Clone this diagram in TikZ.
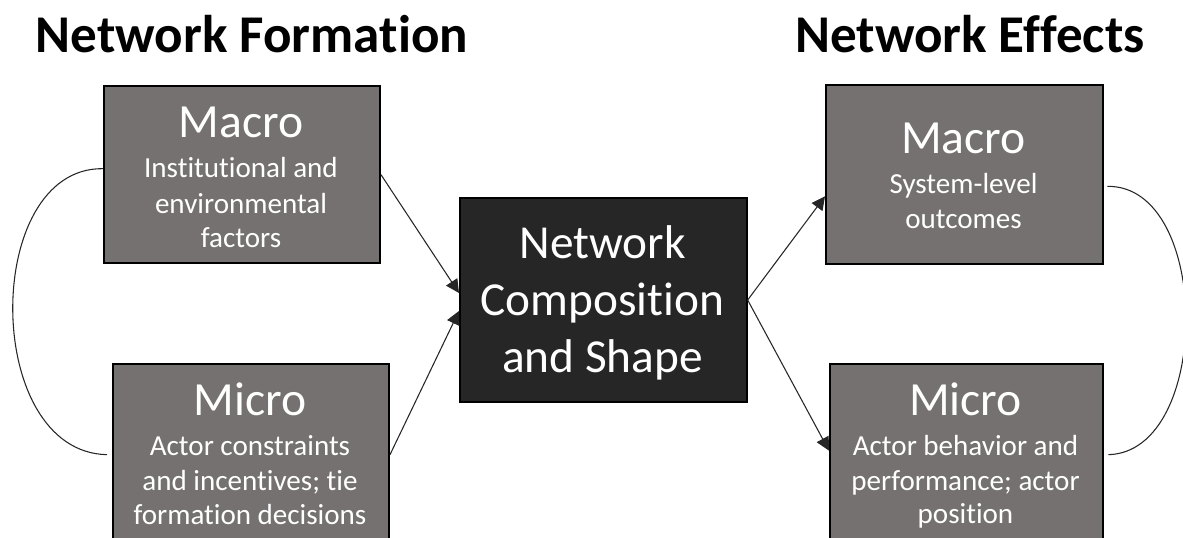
\documentclass[tikz,border=0pt]{standalone}
\usepackage{fontspec}
\setmainfont[Ligatures={NoCommon}]{Carlito}
\usetikzlibrary{arrows.meta,calc}
\definecolor{boxgray}{HTML}{767171}
\definecolor{boxdark}{HTML}{262626}
\begin{document}
\begin{tikzpicture}[x=0.75pt,y=-0.75pt,
  graybox/.style={draw=black, line width=1.5pt, fill=boxgray, anchor=north west, inner sep=0pt},
  darkbox/.style={draw=black, line width=1.5pt, fill=boxdark, anchor=north west, inner sep=0pt},
  titletext/.style={font=\bfseries\fontsize{39.8}{45}\selectfont, anchor=base, inner sep=0pt},
  headtext/.style={font=\fontsize{35.7}{40}\selectfont, text=white, anchor=base, inner sep=0pt},
  subtext/.style={font=\fontsize{21.8}{24}\selectfont, text=white, anchor=base, inner sep=0pt},
  centertext/.style={font=\fontsize{35.5}{40}\selectfont, text=white, anchor=base, inner sep=0pt},
  arrowline/.style={line width=0.8pt, draw=black!85, -{Triangle[length=10pt,width=10pt]}},
  loopline/.style={line width=0.8pt, draw=black!85}
]
\useasboundingbox (0,0) rectangle (1183,537);
\clip (0,0) rectangle (1183,537);

% titles
\node[titletext] (tform) at (252,52) {Network Formation};
\node[titletext] (teff) at (970,52) {Network Effects};

% boxes
\node[graybox, minimum width=207pt, minimum height=133pt] (lmacro) at (103,85) {};
\node[graybox, minimum width=207pt, minimum height=136pt] (lmicro) at (112,363) {};
\node[darkbox, minimum width=215pt, minimum height=153pt] (center) at (459,197) {};
\node[graybox, minimum width=208pt, minimum height=134pt] (rmacro) at (825,84) {};
\node[graybox, minimum width=205pt, minimum height=136pt] (rmicro) at (829,363) {};

% left macro text
\node[headtext] (lmacroh) at (241,137) {Macro};
\node[subtext] (lmacro1) at (241,177) {Institutional and};
\node[subtext] (lmacro2) at (241,213) {environmental};
\node[subtext] (lmacro3) at (241,247) {factors};

% left micro text
\node[headtext] (lmicroh) at (250,415) {Micro};
\node[subtext] (lmicro1) at (250,455) {Actor constraints};
\node[subtext] (lmicro2) at (250,490) {and incentives; tie};
\node[subtext] (lmicro3) at (250,524) {formation decisions};

% center text
\node[centertext] (center1) at (602.5,258) {Network};
\node[centertext] (center2) at (602.5,315) {Composition};
\node[centertext] (center3) at (602.5,372) {and Shape};

% right macro text
\node[headtext] (rmacroh) at (963.5,153) {Macro};
\node[subtext] (rmacro1) at (963.5,193) {System-level};
\node[subtext] (rmacro2) at (963.5,228) {outcomes};

% right micro text
\node[headtext] (rmicroh) at (965.5,415) {Micro};
\node[subtext] (rmicro1) at (965.5,455) {Actor behavior and};
\node[subtext] (rmicro2) at (965.5,490) {performance; actor};
\node[subtext] (rmicro3) at (965.5,523) {position};

% arrows
\draw[arrowline] (lmacro.east) -- ($(center.west)+(0,-7)$);
\draw[arrowline] (lmicro.east) -- ($(center.west)+(0,11)$);
\draw[arrowline] (center.east) -- ($(rmacro.west)+(0,22)$);
\draw[arrowline] (center.east) -- ($(rmicro.west)+(0,-4)$);

% loops
\coordinate (ltop) at ($(lmacro.west)+(0,-6)$);
\coordinate (lbot) at ($(lmicro.west)+(-5,0)$);
\draw[loopline] (ltop) .. controls (-18,167) and (-18,452) .. (lbot);
\coordinate (rtop) at ($(rmacro.east)+(3,12)$);
\coordinate (rbot) at ($(rmicro.east)+(4,0)$);
\draw[loopline] (rtop) .. controls (1212,185) and (1212,452) .. (rbot);
\end{tikzpicture}
\end{document}
